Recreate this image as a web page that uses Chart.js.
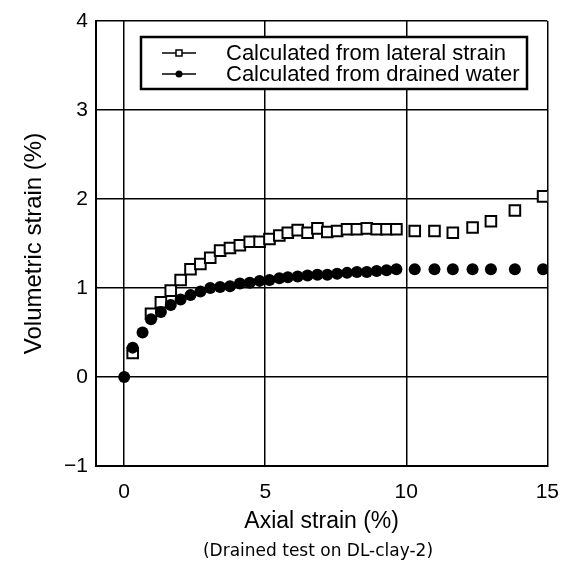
<!DOCTYPE html>
<html>
<head>
<meta charset="utf-8">
<script src="https://cdn.jsdelivr.net/npm/chart.js@4"></script>
<style>
  html, body { margin: 0; padding: 0; background: #fff; }
  #wrap { width: 573px; height: 573px; }
</style>
</head>
<body>
<div id="wrap"><canvas id="strainChart" width="573" height="573"></canvas></div>
<script>
// axial strain (%) of each reading
let axialStrain = [0, 0.3, 0.65, 0.95, 1.3, 1.65, 2.0, 2.35, 2.7, 3.05, 3.4, 3.75, 4.1, 4.45, 4.8, 5.15, 5.5, 5.8,
    6.15, 6.5, 6.85, 7.2, 7.55, 7.9, 8.25, 8.6, 8.95, 9.3, 9.65, 10.3, 11.0, 11.65, 12.35, 13.0, 13.85, 14.85];
// volumetric strain (%) - null where the square is hidden under a dot
let fromLateral = [null, 0.27, null, 0.71, 0.84, 0.97, 1.09, 1.21, 1.27, 1.34, 1.42, 1.45, 1.48, 1.52, 1.52, 1.55, 1.59, 1.62,
    1.65, 1.62, 1.67, 1.63, 1.64, 1.66, 1.66, 1.67, 1.66, 1.66, 1.66, 1.64, 1.64, 1.62, 1.68, 1.75, 1.87, 2.03];
let fromDrained = [0, 0.33, 0.5, 0.65, 0.73, 0.81, 0.87, 0.92, 0.96, 1.0, 1.01, 1.02, 1.05, 1.06, 1.08, 1.09, 1.11, 1.12,
    1.13, 1.14, 1.15, 1.15, 1.16, 1.17, 1.18, 1.18, 1.19, 1.2, 1.21, 1.21, 1.21, 1.21, 1.21, 1.21, 1.21, 1.21];
let seriesNames = ["Calculated from lateral strain", "Calculated from drained water"];
let xTicks = [0, 5, 10, 15];
let yTicks = [-1, 0, 1, 2, 3, 4];

function toPoints(ys) {
    return axialStrain.map((x, i) => ({ x: x, y: ys[i] }));
}

const FONT = "'Liberation Sans', Arial, sans-serif";

// legend box drawn inside the plot, like the original figure
const boxLegend = {
    id: "boxLegend",
    afterDraw(chart) {
        const ctx = chart.ctx;
        const left = 141, top = 37, w = 386, h = 52;
        ctx.save();
        ctx.fillStyle = "#fff";
        ctx.fillRect(left, top, w, h);
        ctx.lineWidth = 2.5;
        ctx.strokeStyle = "#000";
        ctx.strokeRect(left, top, w, h);
        ctx.font = "22px " + FONT;
        ctx.textBaseline = "middle";
        chart.data.datasets.forEach((ds, i) => {
            const y = top + 16 + i * 21;
            ctx.lineWidth = 1.5;
            ctx.beginPath();
            ctx.moveTo(162, y);
            ctx.lineTo(196, y);
            ctx.stroke();
            if (i === 0) {
                ctx.fillStyle = "#fff";
                ctx.fillRect(176, y - 3, 6, 6);
                ctx.lineWidth = 1.5;
                ctx.strokeRect(176, y - 3, 6, 6);
            } else {
                ctx.fillStyle = "#000";
                ctx.beginPath();
                ctx.arc(179, y, 3.5, 0, Math.PI * 2);
                ctx.fill();
            }
            ctx.fillStyle = "#000";
            ctx.fillText(ds.label, 226, y + 1);
        });
        // note under the axis title
        ctx.font = "17px 'DejaVu Sans', sans-serif";
        ctx.textAlign = "center";
        ctx.fillText("(Drained test on DL-clay-2)", 318, 552);
        ctx.restore();
    }
};

var ctxS = document.getElementById("strainChart").getContext("2d");

let chart = new Chart(ctxS, {
    type: "scatter",
    data: {
        datasets: [
            {
                label: seriesNames[0],
                data: toPoints(fromLateral),
                order: 2,
                pointStyle: "rect",
                pointRadius: 7.5,
                pointBorderWidth: 2,
                borderColor: "#000",
                backgroundColor: "#fff",
                showLine: false
            },
            {
                label: seriesNames[1],
                data: toPoints(fromDrained),
                order: 1,
                pointStyle: "circle",
                pointRadius: 6,
                pointBorderWidth: 0,
                borderColor: "#000",
                backgroundColor: "#000",
                showLine: false
            }
        ]
    },
    options: {
        responsive: false,
        animation: false,
        layout: { padding: { left: 20, top: 21, right: 23, bottom: 38 } },
        plugins: {
            legend: { display: false },
            tooltip: { enabled: false }
        },
        scales: {
            x: {
                type: "linear",
                min: -1,
                max: 15,
                afterBuildTicks: (s) => { s.ticks = xTicks.map(v => ({ value: v })); },
                afterFit: (s) => { s.height = 69; },
                grid: { color: "#000", lineWidth: 1.5, drawTicks: false },
                border: { color: "#000", width: 2 },
                ticks: { color: "#000", font: { family: FONT, size: 21 }, padding: 14, maxRotation: 0 },
                title: {
                    display: true,
                    text: "Axial strain (%)",
                    color: "#000",
                    font: { family: FONT, size: 23 },
                    padding: { top: 4, bottom: 0 }
                }
            },
            y: {
                type: "linear",
                min: -1,
                max: 4,
                afterBuildTicks: (s) => { s.ticks = yTicks.map(v => ({ value: v })); },
                afterFit: (s) => { s.width = 76; },
                grid: { color: "#000", lineWidth: 1.5, drawTicks: false },
                border: { color: "#000", width: 2 },
                ticks: {
                    color: "#000",
                    font: { family: FONT, size: 21 },
                    padding: 8,
                    callback: (v) => (v < 0 ? "\u22121" : v)
                },
                title: {
                    display: true,
                    text: "Volumetric strain (%)",
                    color: "#000",
                    font: { family: FONT, size: 24 },
                    padding: { top: 0, bottom: 8 }
                }
            }
        }
    },
    plugins: [boxLegend]
});
</script>
</body>
</html>
